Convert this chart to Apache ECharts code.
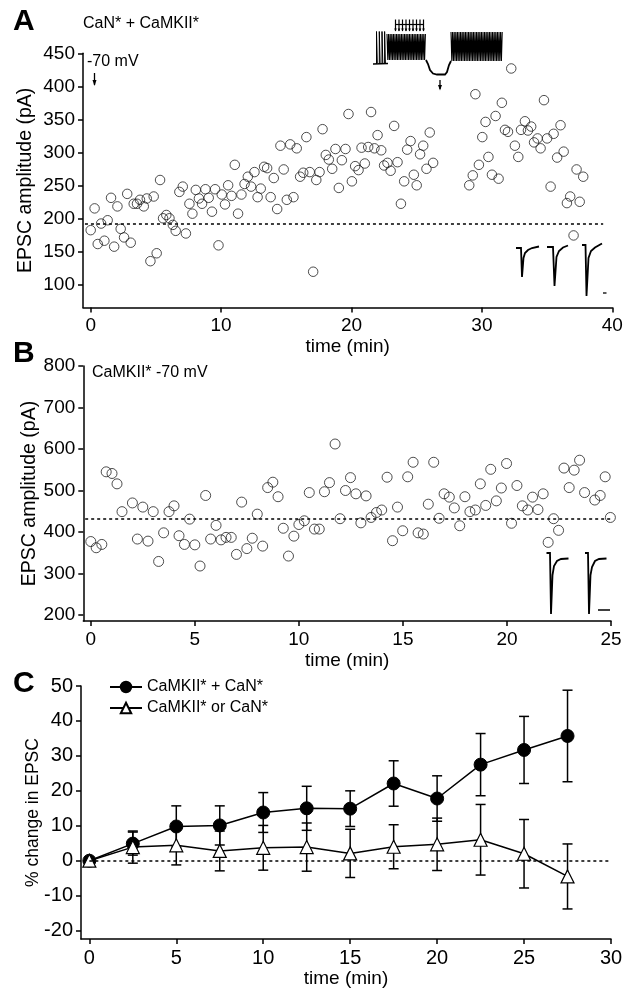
<!DOCTYPE html>
<html>
<head>
<meta charset="utf-8">
<script src="https://cdn.jsdelivr.net/npm/echarts@6/dist/echarts.min.js"></script>
<style>
html,body{margin:0;padding:0;background:#fff;}
#chart{width:634px;height:1001px;}
</style>
</head>
<body>
<div id="chart"></div>
<script>
// ---------- Panel A data (CaN* + CaMKII*) ----------
const aTime = [0,0.3,0.54,0.8,1.05,1.3,1.56,1.8,2.05,2.3,2.56,2.8,3.07,3.3,3.55,3.78,4.07,4.3,4.58,4.83,5.06,5.32,5.55,5.8,6.04,6.3,6.52,6.8,7.06,7.3,7.57,7.8,8.06,8.3,8.54,8.8,9.05,9.3,9.54,9.8,10.05,10.3,10.54,10.8,11.05,11.3,11.56,11.8,12.05,12.3,12.56,12.8,13.04,13.3,13.53,13.8,14.04,14.3,14.55,14.8,15.04,15.3,15.55,15.8,16.06,16.3,16.54,16.8,17.06,17.3,17.55,17.78,18.03,18.26,18.52,18.77,19.03,19.26,19.54,19.77,20.03,20.28,20.54,20.77,21.02,21.28,21.5,21.76,22.0,22.28,22.5,22.76,23.0,23.27,23.53,23.79,24.04,24.27,24.53,24.78,25.0,25.26,25.5,25.75,26.0,26.26,29.03,29.3,29.5,29.77,30.03,30.28,30.5,30.77,31.05,31.28,31.53,31.77,32.0,32.25,32.53,32.79,33.0,33.3,33.53,33.78,34.0,34.27,34.5,34.76,35.0,35.27,35.5,35.77,36.03,36.27,36.52,36.77,37.03,37.26,37.5,37.77];
const aAmp = [182,215,161,192,166,197,231,157,218,184,171,237,163,222,222,228,218,230,135,233,147,258,200,205,200,190,181,240,248,177,222,207,243,230,222,244,231,210,244,159,236,221,250,234,281,207,236,252,263,248,270,232,245,278,276,232,261,214,310,274,228,312,232,306,263,269,323,270,119,258,270,335,296,289,275,305,246,288,305,358,256,279,273,307,283,308,361,306,326,303,280,284,272,340,285,222,256,304,317,266,250,297,310,275,330,284,250,265,388,281,323,346,293,266,355,260,375,334,331,427,310,293,334,347,333,339,315,321,306,379,321,248,328,292,341,301,223,233,174,274,225,263];
const aBaseline = 192;
const aXTicks = [0,10,20,30,40];
const aYTicks = [100,150,200,250,300,350,400,450];

// ---------- Panel B data (CaMKII* -70 mV) ----------
const bTime = [0,0.26,0.53,0.74,1.02,1.26,1.5,2.0,2.24,2.5,2.75,3.0,3.26,3.5,3.76,4.0,4.24,4.5,4.75,5.0,5.25,5.52,5.76,6.02,6.26,6.5,6.75,7.0,7.25,7.5,7.76,8.0,8.26,8.5,8.75,9.0,9.25,9.5,9.76,10.0,10.26,10.5,10.75,10.98,11.23,11.47,11.74,11.98,12.24,12.48,12.74,12.98,13.23,13.47,13.73,13.98,14.24,14.5,14.74,14.99,15.23,15.49,15.73,15.98,16.22,16.48,16.74,16.98,17.23,17.47,17.73,17.98,18.22,18.48,18.72,18.98,19.22,19.49,19.73,19.98,20.22,20.48,20.74,21.0,21.23,21.49,21.74,21.98,22.24,22.48,22.74,22.99,23.23,23.49,23.73,24.22,24.48,24.72,24.97];
const bAmp = [377,362,370,545,541,516,449,470,383,460,378,449,329,398,449,463,391,370,431,369,318,488,383,416,381,387,387,346,472,360,385,443,366,507,520,485,409,342,390,418,427,495,407,407,497,519,612,432,500,531,492,422,487,435,447,453,532,379,460,403,533,568,398,395,467,568,433,492,484,458,415,485,449,453,516,464,551,475,506,565,421,512,463,453,484,454,492,375,432,404,554,507,549,573,495,477,488,533,435];
const bBaseline = 431;
const bXTicks = [0,5,10,15,20,25];
const bYTicks = [200,300,400,500,600,700,800];

// ---------- Panel C data ----------
const cTime = [0,2.5,5,7.5,10,12.5,15,17.5,20,22.5,25,27.5];
const cBoth = [0,4.9,9.8,10.1,13.8,15.0,14.9,22.1,17.8,27.5,31.7,35.7];
const cBothErr = [0,3.3,5.9,5.6,5.7,6.3,5.1,6.5,6.5,8.9,9.6,13.1];
const cSingle = [0,3.9,4.4,2.8,3.7,3.9,2.1,4.0,4.7,6.0,2.0,-4.5];
const cSingleErr = [0,4.6,5.6,5.7,6.4,6.9,6.9,6.3,7.5,10.1,9.8,9.3];
const cXTicks = [0,5,10,15,20,25,30];
const cYTicks = [-20,-10,0,10,20,30,40,50];

const FONT = 'Liberation Sans, Arial, Helvetica, sans-serif';
const chart = echarts.init(document.getElementById('chart'), null, {renderer:'canvas'});

function xAx(gi, min, max, ticks, fs) {
  return {
    type:'value', gridIndex:gi, min:min, max:max,
    name:'time (min)', nameLocation:'middle', nameGap:30, nameMoveOverlap:false,
    nameTextStyle:{color:'#000', fontSize:19, fontFamily:FONT},
    axisLine:{onZero:false, lineStyle:{color:'#000', width:1.5}},
    axisTick:{customValues:ticks, length:5, lineStyle:{color:'#000', width:1.5}},
    axisLabel:{customValues:ticks, margin:9, color:'#000', fontSize:fs, fontFamily:FONT},
    splitLine:{show:false}
  };
}
function yAx(gi, min, max, ticks, name, gap, fs, nfs) {
  return {
    type:'value', gridIndex:gi, min:min, max:max,
    name:name, nameLocation:'middle', nameGap:gap, nameRotate:90, nameMoveOverlap:false,
    nameTextStyle:{color:'#000', fontSize:nfs, fontFamily:FONT},
    axisLine:{show:true, onZero:false, lineStyle:{color:'#000', width:1.5}},
    axisTick:{show:true, customValues:ticks, length:5, lineStyle:{color:'#000', width:1.5}},
    axisLabel:{customValues:ticks, margin:8, color:'#000', fontSize:fs, fontFamily:FONT},
    splitLine:{show:false}
  };
}

function zip(xs, ys) { return xs.map((x,i)=>[x, ys[i]]); }
function zip3(xs, ys, es) { return xs.map((x,i)=>[x, ys[i], es[i]]); }

const dashStyle = {type:[3,3], color:'#000', width:1.5};

function errRender(params, api) {
  const x = api.value(0), y = api.value(1), e = api.value(2);
  if (!e) return null;
  const top = api.coord([x, y+e]);
  const bot = api.coord([x, y-e]);
  const w = 5;
  const st = {stroke:'#000', lineWidth:1.5};
  return {type:'group', children:[
    {type:'line', shape:{x1:top[0], y1:top[1], x2:bot[0], y2:bot[1]}, style:st},
    {type:'line', shape:{x1:top[0]-w, y1:top[1], x2:top[0]+w, y2:top[1]}, style:st},
    {type:'line', shape:{x1:bot[0]-w, y1:bot[1], x2:bot[0]+w, y2:bot[1]}, style:st}
  ]};
}

// ---------- decorative insets (illustrations, not data) ----------
function zigzag(x0, x1, yTop, yBot, step) {
  const pts = [];
  let up = true;
  for (let x = x0; x <= x1; x += step) {
    pts.push([x, up ? yTop : yBot]);
    up = !up;
  }
  return pts;
}
const ln = {stroke:'#000', lineWidth:1.3, fill:null};
const graphics = [];
graphics.push({type:'text', left:13, top:7, style:{text:'A', font:'bold 30px '+FONT, fill:'#000'}});
graphics.push({type:'text', left:13, top:339, style:{text:'B', font:'bold 30px '+FONT, fill:'#000'}});
graphics.push({type:'text', left:13, top:669, style:{text:'C', font:'bold 30px '+FONT, fill:'#000'}});
graphics.push({type:'text', left:83, top:16, style:{text:'CaN* + CaMKII*', font:'16px '+FONT, fill:'#000'}});
graphics.push({type:'text', left:87, top:54, style:{text:'-70 mV', font:'16px '+FONT, fill:'#000'}});
graphics.push({type:'text', left:92, top:365, style:{text:'CaMKII* -70 mV', font:'16px '+FONT, fill:'#000'}});
graphics.push({type:'polyline', shape:{points:[[94.5,73],[94.5,85]]}, style:ln});
graphics.push({type:'polygon', shape:{points:[[92.5,80],[96.5,80],[94.5,86]]}, style:{fill:'#000'}});
graphics.push({type:'polyline', shape:{points:[[373,64],[388,63.5]]}, style:ln});
[376.5,379.3,382,384.6].forEach(x=>{
  graphics.push({type:'polyline', shape:{points:[[x,64],[x,31.5],[x+0.8,63]]}, style:{stroke:'#000', lineWidth:1, fill:null}});
});
graphics.push({type:'polyline', shape:{points:zigzag(387,426,34,60,0.8)}, style:{stroke:'#000', lineWidth:1.1, fill:null}});
graphics.push({type:'polyline', shape:{points:[[426,60],[428,64],[430,70],[433,73.5],[437,74.5],[445,74.5],[447,72],[449,65],[451,61]]}, style:{stroke:'#000', lineWidth:1.8, fill:null}});
graphics.push({type:'polyline', shape:{points:zigzag(451,503,32,61,0.8)}, style:{stroke:'#000', lineWidth:1.1, fill:null}});
graphics.push({type:'polyline', shape:{points:[[395,24.5],[423.5,24.5]]}, style:{stroke:'#000', lineWidth:1.2, fill:null}});
for (let i=0;i<9;i++){
  const x = 395.5 + i*3.5;
  graphics.push({type:'polyline', shape:{points:[[x,19.5],[x,31]]}, style:{stroke:'#000', lineWidth:1.2, fill:null}});
  graphics.push({type:'polygon', shape:{points:[[x-1.3,28.5],[x+1.3,28.5],[x,31.5]]}, style:{fill:'#000'}});
}
graphics.push({type:'polyline', shape:{points:[[440,80],[440,89]]}, style:ln});
graphics.push({type:'polygon', shape:{points:[[438,85],[442,85],[440,90.5]]}, style:{fill:'#000'}});
const epscA = [
  [[516,248],[521,248],[522,277],[523.5,258],[525,253],[528,250],[532,248],[539,246.5]],
  [[547,247],[553,247],[554.5,286],[556.5,257],[559,251],[563,247.5],[568,245.5]],
  [[582,245],[585.5,245],[586.5,296],[588.5,258],[591,251],[595,247.5],[602,243.5]]
];
epscA.forEach(p=>graphics.push({type:'polyline', shape:{points:p}, style:{stroke:'#000', lineWidth:1.8, fill:null}}));
graphics.push({type:'polyline', shape:{points:[[603,293],[606.5,293]]}, style:{stroke:'#000', lineWidth:1.3, fill:null}});
const epscB = [
  [[546.5,553],[550,553],[551,614],[552.5,575],[554,566],[557,561],[561,559],[568.5,558.5]],
  [[585,553],[588,553],[589,614],[590.5,575],[592,567],[595,561],[599,559],[606.5,558.5]]
];
epscB.forEach(p=>graphics.push({type:'polyline', shape:{points:p}, style:{stroke:'#000', lineWidth:1.8, fill:null}}));
graphics.push({type:'polyline', shape:{points:[[598,610],[610,610]]}, style:{stroke:'#000', lineWidth:1.5, fill:null}});

const option = {
  animation:false,
  backgroundColor:'#fff',
  textStyle:{fontFamily:FONT},
  grid:[
    {left:83, top:53.3, width:529.3, height:254.2},
    {left:83.3, top:366, width:527.7, height:255},
    {left:81, top:686, width:530, height:253}
  ],
  xAxis:[
    xAx(0, -0.59, 40, aXTicks, 19),
    xAx(1, -0.36, 25, bXTicks, 19),
    xAx(2, -0.48, 30, cXTicks, 20)
  ],
  yAxis:[
    yAx(0, 64.8, 450, aYTicks, 'EPSC amplitude (pA)', 47, 19, 19.5),
    yAx(1, 185.5, 800, bYTicks, 'EPSC amplitude (pA)', 44, 19, 19.5),
    yAx(2, -22.4, 50, cYTicks, '% change in EPSC', 39, 20, 17.5)
  ],
  legend:{
    data:['CaMKII* + CaN*','CaMKII* or CaN*'],
    orient:'vertical', left:104, top:674, itemWidth:32, itemHeight:13, itemGap:5,
    textStyle:{color:'#000', fontSize:16, fontFamily:FONT}
  },
  graphic:graphics,
  series:[
    {
      type:'scatter', xAxisIndex:0, yAxisIndex:0, data:zip(aTime, aAmp),
      symbol:'circle', symbolSize:9.5,
      itemStyle:{color:'rgba(0,0,0,0)', borderColor:'#222', borderWidth:1},
      markLine:{symbol:'none', silent:true, animation:false, label:{show:false}, lineStyle:dashStyle,
        data:[[{coord:[-0.44, aBaseline]},{coord:[39.3, aBaseline]}]]}
    },
    {
      type:'scatter', xAxisIndex:1, yAxisIndex:1, data:zip(bTime, bAmp),
      symbol:'circle', symbolSize:10, clip:false,
      itemStyle:{color:'rgba(0,0,0,0)', borderColor:'#222', borderWidth:1}
    },
    {
      type:'line', xAxisIndex:1, yAxisIndex:1, clip:false, silent:true, symbol:'none',
      data:[[-0.27, bBaseline],[25.5, bBaseline]],
      lineStyle:dashStyle
    },
    {
      type:'custom', xAxisIndex:2, yAxisIndex:2, renderItem:errRender, z:1,
      data:zip3(cTime, cBoth, cBothErr), silent:true
    },
    {
      type:'custom', xAxisIndex:2, yAxisIndex:2, renderItem:errRender, z:1,
      data:zip3(cTime, cSingle, cSingleErr), silent:true
    },
    {
      name:'CaMKII* + CaN*', type:'line', xAxisIndex:2, yAxisIndex:2, data:zip(cTime, cBoth), z:3,
      symbol:'circle', symbolSize:13,
      lineStyle:{color:'#000', width:1.5},
      itemStyle:{color:'#000', borderColor:'#000', borderWidth:1},
      markLine:{symbol:'none', silent:true, animation:false, label:{show:false}, lineStyle:dashStyle,
        data:[[{coord:[0, 0]},{coord:[30, 0]}]]}
    },
    {
      name:'CaMKII* or CaN*', type:'line', xAxisIndex:2, yAxisIndex:2, data:zip(cTime, cSingle), z:4,
      symbol:'triangle', symbolSize:13,
      lineStyle:{color:'#000', width:1.5},
      itemStyle:{color:'#fff', borderColor:'#000', borderWidth:1.2}
    }
  ]
};
chart.setOption(option);
</script>
</body>
</html>
